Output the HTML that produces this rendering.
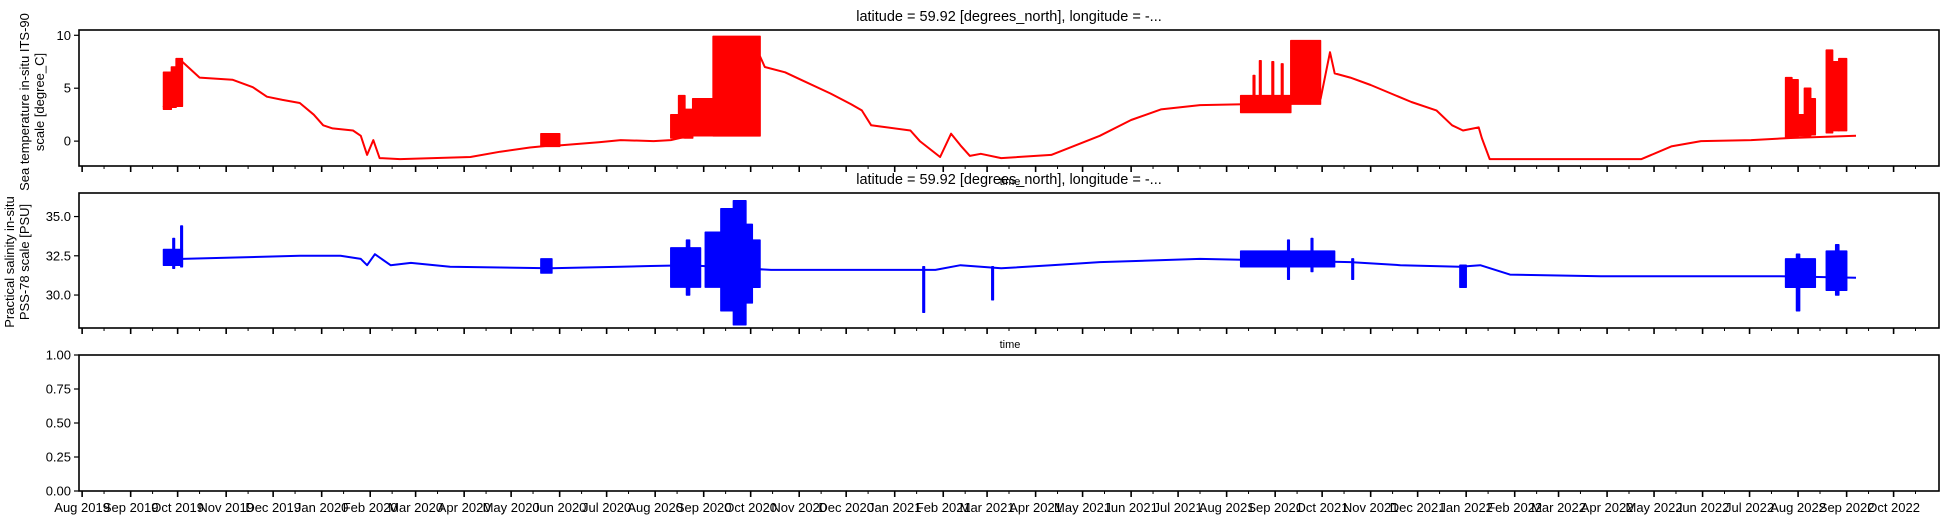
<!DOCTYPE html>
<html><head><meta charset="utf-8"><style>
html,body{margin:0;padding:0;background:#fff}
svg{display:block;font-family:"Liberation Sans",Arial,sans-serif}
</style></head><body>
<svg id="fig" width="1952" height="524" viewBox="0 0 1952 524" xmlns="http://www.w3.org/2000/svg">
<g id="root"></g>
</svg>
<script>
// ---- data (days since 2019-08-01) ----
const tempDays = [52,64,75,96,109,118,128,139,148,154,160,173,178,182,186,190,203,248,267,286,300,305,330,344,365,376,388,403,433,436,449,459,478,491,498,504,529,535,548,555,561,567,574,587,619,650,670,689,714,746,772,791,797,800,810,823,836,849,865,875,882,892,894,899,925,996,1015,1034,1066,1091,1133];
const tempVals = [3.2,7.5,6.0,5.8,5.1,4.2,3.9,3.6,2.5,1.5,1.2,1.0,0.5,-1.3,0.1,-1.6,-1.7,-1.5,-1.0,-0.6,-0.4,-0.4,-0.1,0.1,0.0,0.1,0.5,1.0,8.0,7.0,6.5,5.8,4.5,3.5,2.9,1.5,1.0,0.0,-1.5,0.7,-0.4,-1.4,-1.2,-1.6,-1.3,0.5,2.0,3.0,3.4,3.5,3.6,4.0,8.4,6.4,6.0,5.3,4.5,3.7,2.9,1.5,1.0,1.3,0.3,-1.7,-1.7,-1.7,-0.5,0.0,0.1,0.3,0.5];
// bursts: start day, end day, low, high
const tempBurstStart = [52,57,60,293,376,381,385,390,403,740,748,752,760,766,772,1088,1092,1096,1100,1104,1114,1118,1122];
const tempBurstEnd   = [57,60,64,305,381,385,390,403,433,772,749,753,761,767,791,1092,1096,1100,1104,1107,1118,1122,1127];
const tempBurstLow   = [3.0,3.2,3.3,-0.5,0.3,0.3,0.3,0.5,0.5,2.7,3.0,3.0,3.0,3.0,3.5,0.3,0.4,0.5,0.5,0.6,0.8,1.0,1.0];
const tempBurstHigh  = [6.5,7.0,7.8,0.7,2.5,4.3,3.0,4.0,9.9,4.3,6.2,7.6,7.5,7.3,9.5,6.0,5.8,2.5,5.0,4.0,8.6,7.5,7.8];

const salDays = [52,64,101,139,165,178,182,187,197,210,235,299,344,363,388,440,523,537,545,561,587,619,650,714,810,842,880,893,912,970,1085,1133];
const salVals = [32.4,32.3,32.4,32.5,32.5,32.3,31.9,32.6,31.9,32.05,31.8,31.7,31.8,31.85,31.9,31.6,31.6,31.6,31.6,31.9,31.7,31.9,32.1,32.3,32.1,31.9,31.8,31.9,31.3,31.2,31.2,31.1];
const salBurstStart = [52,58,63,293,376,386,398,408,416,424,428,537,581,740,770,785,811,880,1088,1095,1114,1120];
const salBurstEnd   = [64,59,64,300,395,388,408,416,424,428,433,538,582,800,771,786,812,884,1107,1097,1127,1122];
const salBurstLow   = [31.9,31.7,31.8,31.4,30.5,30.0,30.5,29.0,28.1,29.5,30.5,28.9,29.7,31.8,31.0,31.5,31.0,30.5,30.5,29.0,30.3,30.0];
const salBurstHigh  = [32.9,33.6,34.4,32.3,33.0,33.5,34.0,35.5,36.0,34.5,33.5,31.8,31.8,32.8,33.5,33.6,32.3,31.9,32.3,32.6,32.8,33.2];

const monthLabels = ["Aug 2019","Sep 2019","Oct 2019","Nov 2019","Dec 2019","Jan 2020","Feb 2020","Mar 2020","Apr 2020","May 2020","Jun 2020","Jul 2020","Aug 2020","Sep 2020","Oct 2020","Nov 2020","Dec 2020","Jan 2021","Feb 2021","Mar 2021","Apr 2021","May 2021","Jun 2021","Jul 2021","Aug 2021","Sep 2021","Oct 2021","Nov 2021","Dec 2021","Jan 2022","Feb 2022","Mar 2022","Apr 2022","May 2022","Jun 2022","Jul 2022","Aug 2022","Sep 2022","Oct 2022"];
const tempTicks = [0,5,10];
const salTicks = [30.0,32.5,35.0];
const emptyTicks = [0,0.25,0.5,0.75,1.0];

// ---- layout ----
const NS="http://www.w3.org/2000/svg";
const root=document.getElementById('root');
const X0=79,X1=1939;
const origin=Date.UTC(2019,7,1);
const dMin=-2, dMax=1186;
function xs(d){return X0+(d-dMin)/(dMax-dMin)*(X1-X0);}
function mk(tag,attrs,parent){const e=document.createElementNS(NS,tag);for(const k in attrs)e.setAttribute(k,attrs[k]);(parent||root).appendChild(e);return e;}
const panels=[
 {top:30,bot:166,min:-2.35,max:10.5,ticks:tempTicks,fmt:v=>String(v)},
 {top:193,bot:328,min:27.9,max:36.5,ticks:salTicks,fmt:v=>v.toFixed(1)},
 {top:355,bot:491,min:0,max:1,ticks:emptyTicks,fmt:v=>v.toFixed(2)}
];
function ys(p,v){return p.bot-(v-p.min)/(p.max-p.min)*(p.bot-p.top);}
function dayOf(y,m,dd){return (Date.UTC(y,m,dd)-origin)/86400000;}

function drawSeries(p,days,vals,bs,be,bl,bh,color,name){
  const g=mk('g',{'clip-path':'url(#clip'+name+')'});
  
  
  let d='';
  for(let i=0;i<days.length;i++){d+=(i?'L':'M')+xs(days[i]).toFixed(1)+','+ys(p,vals[i]).toFixed(1);}
  const line=mk('path',{d:d,fill:'none',stroke:color,'stroke-width':2,'stroke-linejoin':'round'},g);
  
  
  for(let j=0;j<bs.length;j++){
    const x0=xs(bs[j]),x1=xs(be[j]);
    const y0=ys(p,bh[j]),y1=ys(p,bl[j]);
    const b=mk('rect',{x:x0.toFixed(1),y:y0.toFixed(1),width:Math.max(0.5,x1-x0).toFixed(1),height:(y1-y0).toFixed(1),fill:color,stroke:color,'stroke-width':1.5,'stroke-linejoin':'round'},g);
    
    
  }
}

const defs=mk('defs',{});
panels.forEach((p,i)=>{
  const cp=mk('clipPath',{id:'clip'+['temp','sal','empty'][i]},defs);
  mk('rect',{x:X0,y:p.top,width:X1-X0,height:p.bot-p.top},cp);
});

drawSeries(panels[0],tempDays,tempVals,tempBurstStart,tempBurstEnd,tempBurstLow,tempBurstHigh,'#ff0000','temp');
drawSeries(panels[1],salDays,salVals,salBurstStart,salBurstEnd,salBurstLow,salBurstHigh,'#0000ff','sal');

panels.forEach((p,i)=>{
  const ax=mk('rect',{x:X0,y:p.top,width:X1-X0,height:p.bot-p.top,fill:'none',stroke:'#000','stroke-width':1.6});
  
  
  p.ticks.forEach(v=>{
    const y=ys(p,v);
    mk('line',{x1:X0-5,x2:X0,y1:y,y2:y,stroke:'#000','stroke-width':1.2});
    const t=mk('text',{x:X0-8,y:y+4.5,'text-anchor':'end','font-size':13,fill:'#000'});
    t.textContent=p.fmt(v);
    
    
  });
  for(let m=0;m<monthLabels.length;m++){
    const dd=dayOf(2019,7+m,1);
    const x=xs(dd);
    mk('line',{x1:x,x2:x,y1:p.bot,y2:p.bot+6,stroke:'#000','stroke-width':1.6});
    const mid=xs(dayOf(2019,7+m,15));
    if(mid<X1) mk('line',{x1:mid,x2:mid,y1:p.bot,y2:p.bot+3,stroke:'#000','stroke-width':1});
    if(i===2){
      const t=mk('text',{x:x,y:512,'text-anchor':'middle','font-size':13,fill:'#000'});
      t.textContent=monthLabels[m];
      
      
    }
  }
});

function txt(x,y,s,size,name,rot){
  const t=mk('text',{x:x,y:y,'text-anchor':'middle','font-size':size,fill:'#000'});
  if(rot) t.setAttribute('transform','rotate(-90 '+x+' '+y+')');
  t.textContent=s;
  
  
  return t;
}
txt(1009,21,'latitude = 59.92 [degrees_north], longitude = -...',14.5,'title-temp');
txt(1009,184,'latitude = 59.92 [degrees_north], longitude = -...',14.5,'title-salinity');
txt(1010,185,'time',11,'x-axis-title-temp');
txt(1010,348,'time',11,'x-axis-title-salinity');
txt(29,102,'Sea temperature in-situ ITS-90',13,'y-axis-title-temp-1',true);
txt(44,102,'scale [degree_C]',13,'y-axis-title-temp-2',true);
txt(14,262,'Practical salinity in-situ',13,'y-axis-title-salinity-1',true);
txt(29,262,'PSS-78 scale [PSU]',13,'y-axis-title-salinity-2',true);
</script>
</body></html>
